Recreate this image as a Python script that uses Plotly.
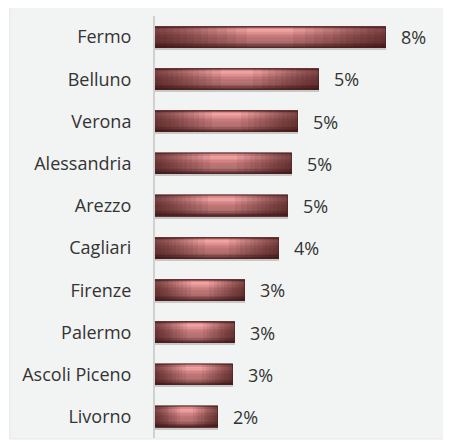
import plotly.graph_objects as go

# ---- data ----
cities = ["Fermo", "Belluno", "Verona", "Alessandria", "Arezzo",
          "Cagliari", "Firenze", "Palermo", "Ascoli Piceno", "Livorno"]
values = [7.69, 5.47, 4.77, 4.57, 4.43, 4.13, 3.00, 2.67, 2.60, 2.10]
labels = ["8%", "5%", "5%", "5%", "5%", "4%", "3%", "3%", "3%", "2%"]

# ---- style ----
FONT = "Open Sans"
TXT = "#333333"
BAR_W = 0.5
stripe_colors = ["#955252", "#d88a8a", "#eea2a2", "#eb9c9c", "#df9090", "#d28484",
                 "#c87c7c", "#bf7575", "#b97272", "#b57272", "#ac6c6c", "#985a5a",
                 "#804646", "#683434"]

fig = go.Figure()

# shadow under bars
fig.add_trace(go.Bar(y=cities, x=values, orientation="h", width=0.06, offset=BAR_W / 2 - 0.01,
                     marker=dict(color="rgba(120,120,120,0.35)", line=dict(width=0)),
                     hoverinfo="skip", showlegend=False))

n = len(stripe_colors)
sw = BAR_W / n
for j, c in enumerate(stripe_colors):
    fig.add_trace(go.Bar(y=cities, x=values, orientation="h", width=sw * 1.08,
                         offset=-BAR_W / 2 + j * sw,
                         marker=dict(color=c, line=dict(width=0)),
                         hoverinfo="skip", showlegend=False))

# darkening toward the bar ends
fracs = [0.02, 0.05, 0.08, 0.11, 0.14, 0.17, 0.20, 0.23, 0.27, 0.31, 0.35, 0.40]
shade = "rgba(55,10,10,0.075)"
for f in fracs:
    fig.add_trace(go.Bar(y=cities, x=[v * f for v in values], base=[0] * len(values),
                         orientation="h", width=BAR_W, offset=-BAR_W / 2,
                         marker=dict(color=shade, line=dict(width=0)),
                         hoverinfo="skip", showlegend=False))
    fig.add_trace(go.Bar(y=cities, x=[v * f for v in values], base=[v * (1 - f) for v in values],
                         orientation="h", width=BAR_W, offset=-BAR_W / 2,
                         marker=dict(color=shade, line=dict(width=0)),
                         hoverinfo="skip", showlegend=False))

# thin outline around each bar
fig.add_trace(go.Bar(y=cities, x=values, orientation="h", width=BAR_W, offset=-BAR_W / 2,
                     marker=dict(color="rgba(0,0,0,0)", line=dict(width=1, color="rgba(70,35,35,0.6)")),
                     hoverinfo="skip", showlegend=False))

# value labels
for c, v, t in zip(cities, values, labels):
    fig.add_annotation(x=v, y=c, text=t, showarrow=False, xanchor="left", xshift=13,
                       font=dict(family=FONT, size=18, color=TXT))

# background panel (page body adds an 8px offset)
fig.add_shape(type="rect", xref="paper", yref="paper", x0=-0.501, x1=1.0034, y0=-0.0024, y1=1.02,
              fillcolor="#f2f3f3", line=dict(color="#e6e7e7", width=1), layer="below")

fig.update_layout(
    width=443, height=434,
    margin=dict(l=147, r=6, t=8, b=4),
    paper_bgcolor="white", plot_bgcolor="rgba(0,0,0,0)",
    barmode="overlay", bargap=0,
    showlegend=False,
    font=dict(family=FONT, size=18, color=TXT),
    xaxis=dict(visible=False, range=[0, 290 / 30], fixedrange=True),
    yaxis=dict(autorange="reversed", showgrid=False, zeroline=False,
               showline=True, linecolor="#cfd0d0", linewidth=2,
               ticks="", ticklabelstandoff=18,
               tickfont=dict(family=FONT, size=18, color=TXT)),
)

fig.write_html("out.html")
